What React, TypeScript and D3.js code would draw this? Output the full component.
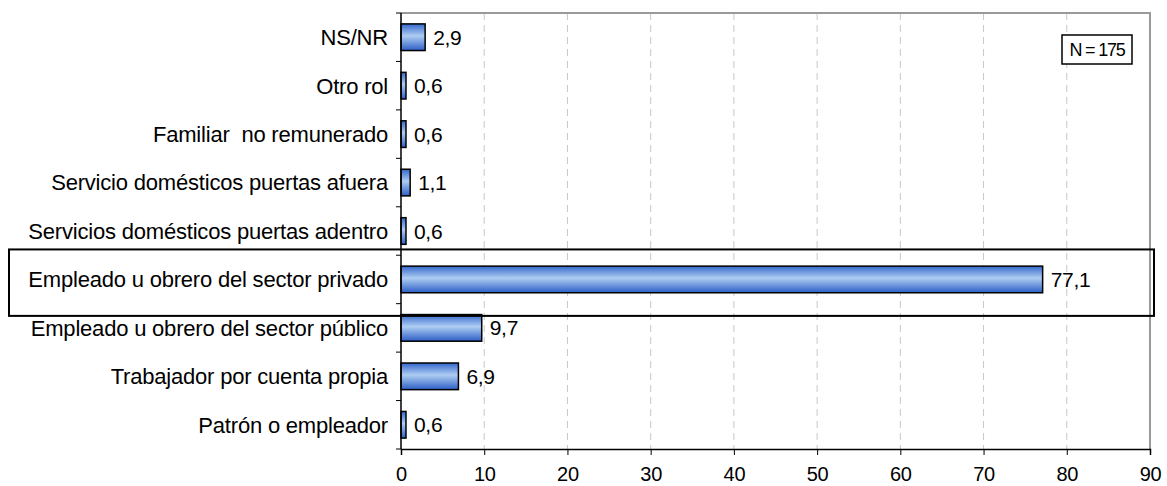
import React, { useEffect, useRef } from 'react';
import * as d3 from 'd3';

const categories = [
  'NS/NR',
  'Otro rol',
  'Familiar  no remunerado',
  'Servicio domésticos puertas afuera',
  'Servicios domésticos puertas adentro',
  'Empleado u obrero del sector privado',
  'Empleado u obrero del sector público',
  'Trabajador por cuenta propia',
  'Patrón o empleador',
];
const values = [2.9, 0.6, 0.6, 1.1, 0.6, 77.1, 9.7, 6.9, 0.6];
const xTicks = [0, 10, 20, 30, 40, 50, 60, 70, 80, 90];
const highlighted = 'Empleado u obrero del sector privado';
const sampleNote = 'N = 175';

const fmt = (v: number) => v.toFixed(1).replace('.', ',');

export default function App() {
  const svgRef = useRef<SVGSVGElement>(null);

  useEffect(() => {
    if (!svgRef.current) return;
    const svg = d3.select(svgRef.current);
    svg.selectAll('*').remove();

    const width = 1167;
    const height = 486;
    const margin = { top: 13, right: 17, bottom: 37, left: 401 };
    const font = 'Liberation Sans, Arial, sans-serif';

    const x = d3.scaleLinear()
      .domain([0, 90])
      .range([margin.left, width - margin.right]);

    const y = d3.scaleBand<string>()
      .domain(categories)
      .range([margin.top, height - margin.bottom])
      .paddingInner(0.45)
      .paddingOuter(0.225);

    const defs = svg.append('defs');
    const grad = defs.append('linearGradient')
      .attr('id', 'barGrad')
      .attr('x1', 0).attr('y1', 0).attr('x2', 0).attr('y2', 1);
    grad.append('stop').attr('offset', '0%').attr('stop-color', '#3467cc');
    grad.append('stop').attr('offset', '45%').attr('stop-color', '#aecdf2');
    grad.append('stop').attr('offset', '100%').attr('stop-color', '#2c5ec6');

    // grid lines
    svg.append('g')
      .selectAll('line')
      .data(xTicks.filter(t => t > 0 && t < 90))
      .enter()
      .append('line')
      .attr('x1', d => x(d))
      .attr('x2', d => x(d))
      .attr('y1', margin.top)
      .attr('y2', height - margin.bottom)
      .attr('stroke', '#c8c8c8')
      .attr('stroke-dasharray', '7,5');

    // plot frame: top and right in gray
    svg.append('path')
      .attr('d', `M${x(0)},${margin.top}H${x(90)}V${height - margin.bottom}`)
      .attr('fill', 'none')
      .attr('stroke', '#9a9a9a')
      .attr('stroke-width', 2);

    // bars
    svg.append('g')
      .selectAll('rect')
      .data(categories)
      .enter()
      .append('rect')
      .attr('x', x(0))
      .attr('y', d => y(d)!)
      .attr('width', (d, i) => x(values[i]) - x(0))
      .attr('height', y.bandwidth())
      .attr('fill', 'url(#barGrad)')
      .attr('stroke', '#000')
      .attr('stroke-width', 1.5);

    // value labels
    svg.append('g')
      .selectAll('text')
      .data(categories)
      .enter()
      .append('text')
      .attr('x', (d, i) => x(values[i]) + 8)
      .attr('y', d => y(d)! + y.bandwidth() / 2)
      .attr('dy', '0.36em')
      .attr('font-family', font)
      .attr('font-size', 21)
      .attr('letter-spacing', -0.3)
      .text((d, i) => fmt(values[i]));

    // x axis
    const xAxis = svg.append('g')
      .attr('transform', `translate(0,${height - margin.bottom})`)
      .call(d3.axisBottom(x).tickValues(xTicks).tickSize(6).tickFormat(d => String(d)));
    xAxis.select('.domain').attr('stroke', '#000').attr('stroke-width', 1.5);
    xAxis.selectAll('.tick line').attr('stroke', '#000');
    xAxis.selectAll('.tick text')
      .attr('font-family', font)
      .attr('font-size', 20)
      .attr('letter-spacing', -0.3)
      .attr('fill', '#000')
      .attr('y', 32)
      .attr('dy', 0);

    // y axis
    svg.append('line')
      .attr('x1', x(0)).attr('x2', x(0))
      .attr('y1', margin.top).attr('y2', height - margin.bottom)
      .attr('stroke', '#000').attr('stroke-width', 1.5);
    const step = y.step();
    const boundaries = d3.range(categories.length + 1)
      .map(i => margin.top + i * (height - margin.top - margin.bottom) / categories.length);
    svg.append('g')
      .selectAll('line')
      .data(boundaries)
      .enter()
      .append('line')
      .attr('x1', x(0) - 5).attr('x2', x(0))
      .attr('y1', d => d).attr('y2', d => d)
      .attr('stroke', '#000');

    svg.append('g')
      .selectAll('text')
      .data(categories)
      .enter()
      .append('text')
      .attr('x', x(0) - 13)
      .attr('y', d => y(d)! + y.bandwidth() / 2)
      .attr('dy', '0.36em')
      .attr('text-anchor', 'end')
      .attr('font-family', font)
      .attr('font-size', 22)
      .attr('letter-spacing', -0.2)
      .style('white-space', 'pre')
      .text(d => d);

    // highlight box
    const hy = y(highlighted)! + y.bandwidth() / 2;
    svg.append('rect')
      .attr('x', 9)
      .attr('y', hy - 30)
      .attr('width', 1145)
      .attr('height', step + 18)
      .attr('fill', 'none')
      .attr('stroke', '#000')
      .attr('stroke-width', 2);

    // sample note
    svg.append('rect')
      .attr('x', 1062).attr('y', 35)
      .attr('width', 70).attr('height', 29)
      .attr('fill', '#fff')
      .attr('stroke', '#000')
      .attr('stroke-width', 1.5);
    svg.append('text')
      .attr('x', 1097).attr('y', 50)
      .attr('dy', '0.36em')
      .attr('text-anchor', 'middle')
      .attr('font-family', font)
      .attr('font-size', 18)
      .attr('letter-spacing', -1.2)
      .style('white-space', 'pre')
      .text(sampleNote);
  }, []);

  return (
    <svg
      ref={svgRef}
      width={1167}
      height={486}
      style={{ display: 'block', position: 'absolute', left: 0, top: 0, background: '#fff' }}
    />
  );
}
